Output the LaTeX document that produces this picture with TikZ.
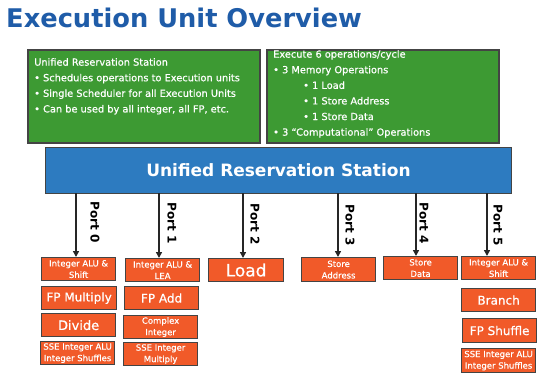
\documentclass[tikz,border=0pt]{standalone}
\usepackage{fontspec}
\setmainfont{DejaVu Sans}
\newfontfamily\semib{DejaVu Sans}[FakeBold=0.6]
\usetikzlibrary{arrows.meta}
\definecolor{titleblue}{HTML}{1F5CA8}
\definecolor{boxgreen}{HTML}{3D9A33}
\definecolor{boxblue}{HTML}{2D7BC0}
\definecolor{boxorange}{HTML}{F15A29}
\definecolor{bord}{HTML}{444444}
\tikzset{
  greenbox/.style={draw=bord, fill=boxgreen, line width=1.5pt, anchor=north west, inner sep=0pt},
  greentext/.style={text=white, align=left, anchor=north west, inner sep=0pt, font=\semib\fontsize{9.8}{15.6}\selectfont},
  bluebox/.style={draw=bord, fill=boxblue, line width=1pt, anchor=north west},
  obox/.style={draw=bord, fill=boxorange, line width=1.2pt, anchor=north west, text=white, align=center, minimum width=74pt, minimum height=23pt, inner sep=0pt},
  small/.style={font=\semib\fontsize{8.5}{11.5}\selectfont},
  mid/.style={font=\semib\fontsize{12}{14}\selectfont},
  portarrow/.style={draw=black!85, line width=1.8pt, -{Triangle[length=6pt,width=6pt]}},
  portlabel/.style={rotate=-90, font=\fontsize{12}{14}\bfseries\selectfont, inner sep=0pt}
}
\begin{document}
\begin{tikzpicture}[x=1pt,y=-1pt]
\useasboundingbox (0,0) rectangle (550,381);
\node[anchor=base west, inner sep=0pt, text=titleblue, font=\fontsize{25.7}{30}\bfseries\selectfont] (title) at (6,27) {Execution Unit Overview};

\node[greenbox, minimum width=232pt, minimum height=93pt] (g1) at (27,49) {};
\node[greentext] (t1) at (34,58) {Unified Reservation Station\\
• Schedules operations to Execution units\\
• Single Scheduler for all Execution Units\\
• Can be used by all integer, all FP, etc.};

\node[greenbox, minimum width=232pt, minimum height=93pt] (g2) at (266,49) {};
\node[greentext] (t2) at (273,50) {Execute 6 operations/cycle\\
• 3 Memory Operations\\
\hspace*{30pt}• 1 Load\\
\hspace*{30pt}• 1 Store Address\\
\hspace*{30pt}• 1 Store Data\\
• 3 “Computational” Operations};

\node[bluebox, minimum width=466pt, minimum height=46pt] (rs) at (45,147) {};
\node[text=white, font=\fontsize{17}{20}\bfseries\selectfont] (rst) at (rs.center) {Unified Reservation Station};

% column 0
\node[obox, small] (i0) at (41,257) {Integer ALU \&\\Shift};
\node[obox, mid, minimum width=75pt] (m0) at (41,286) {FP Multiply};
\node[obox, font=\semib\fontsize{13}{15}\selectfont] (d0) at (41,313) {Divide};
\node[obox, small] (s0) at (40,341) {SSE Integer ALU\\Integer Shuffles};
% column 1
\node[obox, small] (i1) at (125,258) {Integer ALU \&\\LEA};
\node[obox, mid] (a1) at (124,286) {FP Add};
\node[obox, small] (x1) at (123,315) {Complex\\Integer};
\node[obox, small] (s1) at (123,342) {SSE Integer\\Multiply};
% column 2
\node[obox, font=\semib\fontsize{17}{19}\selectfont, minimum width=75pt] (l2) at (208,258) {Load};
% column 3
\node[obox, small, minimum height=24pt] (a3) at (301,257) {Store\\Address};
% column 4
\node[obox, small] (d4) at (383,256) {Store\\Data};
% column 5
\node[obox, small] (i5) at (461,256) {Integer ALU \&\\Shift};
\node[obox, mid] (b5) at (461,288) {Branch};
\node[obox, mid, minimum height=24pt] (f5) at (462,318) {FP Shuffle};
\node[obox, small, minimum height=24pt] (s5) at (461,348) {SSE Integer ALU\\Integer Shuffles};

% ports
\coordinate (p0) at (76,193);
\coordinate (p1) at (159,193);
\coordinate (p2) at (243,193);
\coordinate (p3) at (338,193);
\coordinate (p4) at (416,193);
\coordinate (p5) at (487,193);
\draw[portarrow] (p0) -- (p0 |- i0.north);
\draw[portarrow] (p1) -- (p1 |- i1.north);
\draw[portarrow] (p2) -- (p2 |- l2.north);
\draw[portarrow] (p3) -- (p3 |- a3.north);
\draw[portarrow] (p4) -- (p4 |- d4.north);
\draw[portarrow] (p5) -- (p5 |- i5.north);
\node[portlabel] (l0) at (95,222) {Port 0};
\node[portlabel] (l1) at (172,223) {Port 1};
\node[portlabel] (l2t) at (255,224) {Port 2};
\node[portlabel] (l3) at (350,225) {Port 3};
\node[portlabel] (l4) at (424,223) {Port 4};
\node[portlabel] (l5) at (498,225) {Port 5};
\end{tikzpicture}
\end{document}
